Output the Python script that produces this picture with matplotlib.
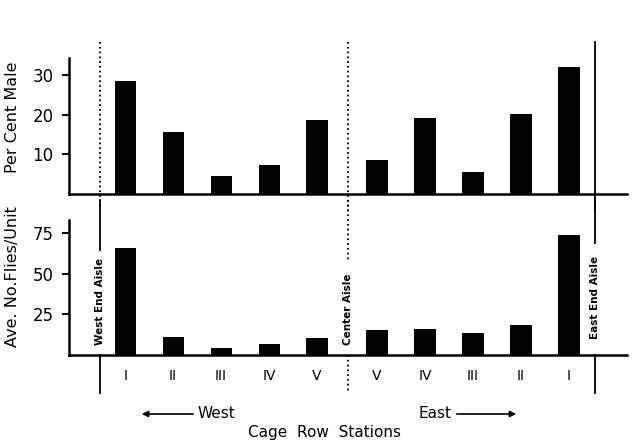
import matplotlib
matplotlib.use("Agg")
import matplotlib.pyplot as plt
import matplotlib.transforms as mtransforms
from matplotlib.patches import FancyArrowPatch

# ---- data ----
stations = ["I", "II", "III", "IV", "V", "V", "IV", "III", "II", "I"]
sides = ["West"] * 5 + ["East"] * 5
percent_male = [28.5, 15.6, 4.5, 7.3, 18.7, 8.7, 19.3, 5.6, 20.2, 32.2]
flies_per_unit = [66.2, 11.3, 4.5, 6.6, 10.3, 15.4, 15.8, 13.4, 18.5, 74.0]
top_ticks = [10, 20, 30]
top_ticklabels = ["10", "20", "30"]
bottom_ticks = [25, 50, 75]
bottom_ticklabels = ["25", "50", "75"]
aisle_labels = ["West End Aisle", "Center Aisle", "East End Aisle"]

# ---- layout ----
W, H = 637, 440
positions = [i if s == "West" else i + 0.25 for i, s in enumerate(sides)]
aisle_x = [-0.52, 4.65, 9.8]
xlim = (-1.17, 10.46)
bar_w = 0.44

plt.rcParams['font.family'] = ['DejaVu Sans']
fig = plt.figure(figsize=(W / 100, H / 100), dpi=100)

def axes_rect(left_px, right_px, top_px, bottom_px):
    return [left_px / W, 1 - bottom_px / H, (right_px - left_px) / W, (bottom_px - top_px) / H]

ax1 = fig.add_axes(axes_rect(69, 627, 58, 194))
ax2 = fig.add_axes(axes_rect(69, 627, 220, 355))

for ax in (ax1, ax2):
    for s in ("top", "right"):
        ax.spines[s].set_visible(False)
    for s in ("left", "bottom"):
        ax.spines[s].set_linewidth(1.8)
    ax.set_xlim(*xlim)
    ax.tick_params(axis="y", direction="out", length=5, width=1.5, labelsize=12, pad=6)

ax1.bar(positions, percent_male, width=bar_w, color="black")
ax2.bar(positions, flies_per_unit, width=bar_w, color="black")

ax1.set_ylim(0, 34.4)
ax2.set_ylim(0, 83.3)
ax1.set_yticks(top_ticks)
ax1.set_yticklabels(top_ticklabels)
ax2.set_yticks(bottom_ticks)
ax2.set_yticklabels(bottom_ticklabels)

ax1.set_xticks([])
ax2.set_xticks(positions)
ax2.set_xticklabels(stations, fontsize=10)
ax2.tick_params(axis="x", length=0, pad=10)

ax1.set_ylabel("Per Cent Male", fontsize=11.5)
ax1.yaxis.set_label_coords(-0.087, 0.5625)
ax2.set_ylabel("Ave. No.Flies/Unit", fontsize=11.5)
ax2.yaxis.set_label_coords(-0.087, 0.578)

# ---- aisle lines ----
tr1 = mtransforms.blended_transform_factory(ax1.transData, ax1.transAxes)
tr2 = mtransforms.blended_transform_factory(ax2.transData, ax2.transAxes)
styles_top = [":", ":", "-"]
upper_ends = [0.778, 0.70, 0.83]
bottom_styles = ["-", ":", "-"]
text_y = [0.40, 0.34, 0.426]
for x, st, ue, bs, lab, ty in zip(aisle_x, styles_top, upper_ends, bottom_styles, aisle_labels, text_y):
    ax1.plot([x, x], [1.118, -0.118], transform=tr1, color="black", lw=1.3,
             ls=st, clip_on=False)
    ax2.plot([x, x], [1.148, ue], transform=tr2, color="black", lw=1.3,
             ls=bs, clip_on=False)
    ax2.plot([x, x], [0.0, -0.281], transform=tr2, color="black", lw=1.3,
             ls=bs, clip_on=False)
    ax2.text(x, ty, lab, transform=tr2, rotation=90, ha="center", va="center",
             fontsize=7.5, fontweight="bold")

# ---- direction labels ----
def fx(px):
    return px / W

def fy(py):
    return 1 - py / H

fig.text(fx(198), fy(413), "West", fontsize=11, ha="left", va="center")
fig.add_artist(FancyArrowPatch((fx(196), fy(414)), (fx(139), fy(414)),
                               transform=fig.transFigure, arrowstyle="-|>",
                               mutation_scale=9, color="black", lw=1.2))
fig.text(fx(451), fy(413), "East", fontsize=11, ha="right", va="center")
fig.add_artist(FancyArrowPatch((fx(454), fy(414)), (fx(519), fy(414)),
                               transform=fig.transFigure, arrowstyle="-|>",
                               mutation_scale=9, color="black", lw=1.2))
fig.text(fx(325), fy(432), "Cage  Row  Stations", fontsize=11, ha="center", va="center")

fig.savefig("out.png", dpi=100)
